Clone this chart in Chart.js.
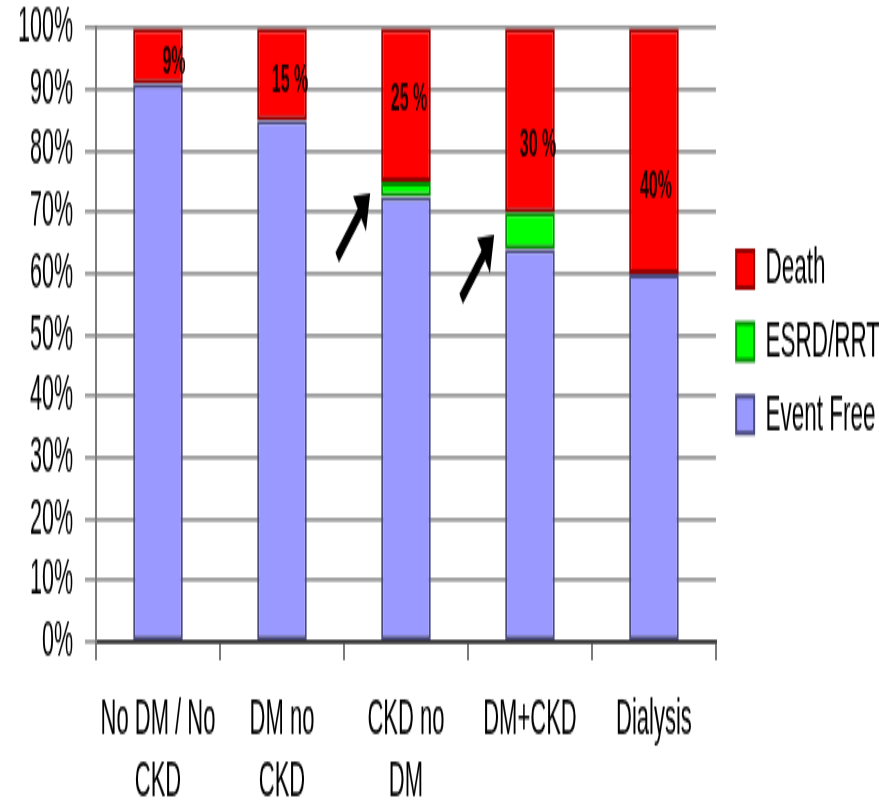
<!DOCTYPE html>
<html>
<head>
<meta charset="utf-8">
<script src="https://cdn.jsdelivr.net/npm/chart.js@4/dist/chart.umd.min.js"></script>
<style>
  html, body { margin: 0; padding: 0; background: #ffffff; }
  #outcomes { display: block; }
</style>
</head>
<body>
<canvas id="outcomes" width="879" height="349" style="width:879px;height:803px"></canvas>
<script>
// Outcome shares per patient group (percent of group)
const categories = [['No DM / No', 'CKD'], ['DM no', 'CKD'], ['CKD no', 'DM'], 'DM+CKD', 'Dialysis'];
const eventFree = [91, 85, 72.5, 64, 60];
const esrdRrt = [0, 0, 2.5, 6, 0];
const death = [9, 15, 25, 30, 40];
const deathLabelSuffix = ['%', ' %', ' %', ' %', '%'];

// Label nudges inside the Death segments (px, canvas space)
const labelNudgeX = [16, 8, 3, 8, 2];
const labelNudgeY = [3, 3.5, -1.7, 11.7, 16];

const FONT = '"Liberation Sans", Arial, sans-serif';
Chart.defaults.font.family = FONT;
Chart.defaults.color = '#000000';

// Percent labels on the Death segments, read from the death values
const deathLabels = {
  id: 'deathLabels',
  afterDatasetsDraw(chart) {
    const meta = chart.getDatasetMeta(2);
    const values = chart.data.datasets[2].data;
    const ctx = chart.ctx;
    ctx.save();
    ctx.font = 'bold 16px ' + FONT;
    ctx.fillStyle = '#1a0000';
    ctx.textAlign = 'center';
    ctx.textBaseline = 'middle';
    meta.data.forEach((bar, i) => {
      const y = (bar.y + bar.base) / 2 + labelNudgeY[i];
      ctx.fillText(values[i] + deathLabelSuffix[i], bar.x + labelNudgeX[i], y);
    });
    ctx.restore();
  }
};

// Arrows pointing at the ESRD/RRT segments of the CKD groups
const arrowTargets = [2, 3];
const esrdArrows = {
  id: 'esrdArrows',
  afterDatasetsDraw(chart) {
    const meta = chart.getDatasetMeta(1);
    const ctx = chart.ctx;
    ctx.save();
    ctx.fillStyle = '#000';
    ctx.strokeStyle = '#000';
    arrowTargets.forEach(i => {
      const bar = meta.data[i];
      const tipX = bar.x - bar.width / 2 - 11;
      const tipY = (bar.y + bar.base) / 2 + 1.7;
      const tailX = tipX - 33, tailY = tipY + 28;
      const len = Math.hypot(tipX - tailX, tipY - tailY);
      const ux = (tipX - tailX) / len, uy = (tipY - tailY) / len;
      const headLen = 14, headHalf = 10;
      const bx = tipX - ux * headLen, by = tipY - uy * headLen;
      ctx.lineWidth = 5.5;
      ctx.beginPath();
      ctx.moveTo(tailX, tailY);
      ctx.lineTo(bx + ux * 2, by + uy * 2);
      ctx.stroke();
      ctx.beginPath();
      ctx.moveTo(tipX, tipY);
      ctx.lineTo(bx - uy * headHalf, by + ux * headHalf);
      ctx.lineTo(bx + uy * headHalf, by - ux * headHalf);
      ctx.closePath();
      ctx.fill();
    });
    ctx.restore();
  }
};

// Moves the legend column to the right of the plot border
const legendShift = {
  id: 'legendShift',
  afterLayout(chart) {
    const lg = chart.legend;
    if (!lg) return;
    lg.left += 11; lg.right += 11;
    lg.top += 3; lg.bottom += 3;
  }
};

new Chart(document.getElementById('outcomes'), {
  type: 'bar',
  data: {
    labels: categories,
    datasets: [
      {
        label: 'Event Free',
        data: eventFree,
        backgroundColor: '#9999ff',
        borderColor: '#4b4b80',
        borderWidth: 2,
        borderSkipped: false
      },
      {
        label: 'ESRD/RRT',
        data: esrdRrt,
        backgroundColor: '#00ff00',
        borderColor: '#009000',
        borderWidth: 2,
        borderSkipped: false
      },
      {
        label: 'Death',
        data: death,
        backgroundColor: '#ff0000',
        borderColor: '#990000',
        borderWidth: 2,
        borderSkipped: false
      }
    ]
  },
  options: {
    responsive: false,
    devicePixelRatio: 1,
    animation: false,
    layout: { padding: { left: 19, right: 0, top: 0, bottom: 0 } },
    datasets: { bar: { barPercentage: 0.4, categoryPercentage: 1.0 } },
    plugins: {
      tooltip: { enabled: false },
      legend: {
        position: 'right',
        fullSize: false,
        reverse: true,
        labels: {
          boxWidth: 18,
          boxHeight: 16,
          padding: 9.2,
          color: '#000',
          font: { size: 22.5 }
        }
      }
    },
    scales: {
      x: {
        stacked: true,
        afterFit(scale) { scale.height = 70; },
        grid: {
          offset: true,
          drawOnChartArea: true,
          drawTicks: true,
          tickLength: 8,
          lineWidth: 2,
          color: (c) => (c.index === categories.length ? '#7a7a7a' : 'rgba(0,0,0,0)'),
          tickColor: '#7a7a7a'
        },
        border: { color: '#333333', width: 1.7 },
        ticks: {
          autoSkip: false,
          maxRotation: 0,
          padding: 11.8,
          color: '#000',
          font: { size: 22, lineHeight: 1.26 }
        }
      },
      y: {
        stacked: true,
        min: 0,
        max: 100,
        afterFit(scale) { scale.width = 77; scale.paddingTop = 12.2; scale.paddingBottom = 0; },
        grid: {
          color: '#9a9a9a',
          lineWidth: 1.7,
          tickLength: 11
        },
        border: { color: '#7a7a7a', width: 2 },
        ticks: {
          stepSize: 10,
          autoSkip: false,
          padding: 12,
          color: '#000',
          font: { size: 21.5 },
          callback: (v) => v + '%'
        }
      }
    }
  },
  plugins: [deathLabels, esrdArrows, legendShift]
});
</script>
</body>
</html>
